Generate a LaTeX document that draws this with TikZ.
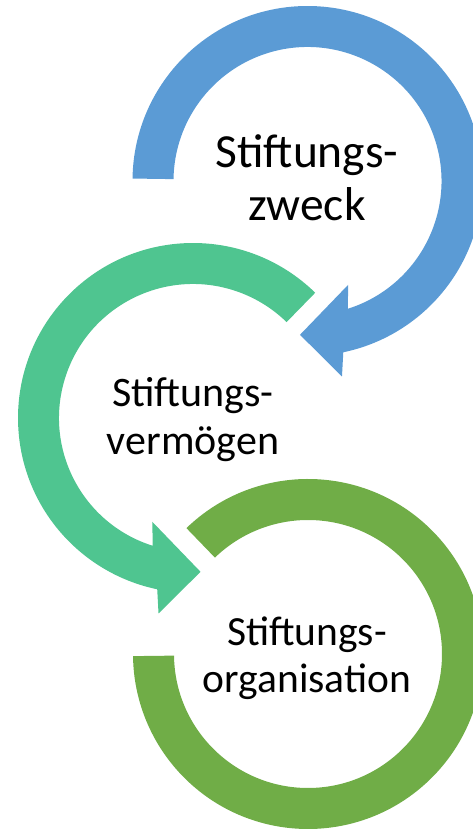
\documentclass[tikz,border=0pt]{standalone}
\usepackage{fontspec}
\setmainfont{Carlito}
\definecolor{cblue}{HTML}{5B9BD5}
\definecolor{cgreen}{HTML}{4FC590}
\definecolor{colive}{HTML}{70AD47}
\begin{document}
\begin{tikzpicture}[x=1pt,y=1pt,
  lbl/.style={align=center, inner sep=0pt, text=black, anchor=base},
  big/.style={font=\fontsize{47.5}{53}\selectfont},
  smallg/.style={font=\fontsize{42}{48.3}\selectfont},
  smallo/.style={font=\fontsize{41.5}{46.6}\selectfont}]
\useasboundingbox (0,0) rectangle (473,829);
\clip (0,0) rectangle (473,829);
\coordinate (cb) at (307.5,648);
\coordinate (cg) at (193,411);
\coordinate (co) at (308,175);
% blue circular arrow
\fill[cblue, shift={(cb)}] (179.2:175pt) arc[start angle=179.2, end angle=-78.2, radius=175pt]
  -- (-80:198.5pt) -- (-92.8:154pt) -- (-68.6:111.5pt) -- (-72.5:134pt)
  arc[start angle=-72.5, end angle=179.2, radius=134pt] -- cycle;
% green circular arrow
\fill[cgreen, shift={(cg)}] (45.7:175pt) arc[start angle=45.7, end angle=258.2, radius=175pt]
  -- (260:198.5pt) -- (272.8:154pt) -- (248.6:111.5pt) -- (252.5:134pt)
  arc[start angle=252.5, end angle=45.7, radius=134pt] -- cycle;
% olive circular arc
\fill[colive, shift={(co)}] (134:175pt) arc[start angle=134, end angle=-179.3, radius=175pt]
  -- (-179.3:134pt) arc[start angle=-179.3, end angle=134, radius=134pt] -- cycle;
\node[lbl, big] (tb) at (307,608.3) {Stiftungs-\\zweck};
\node[lbl, smallg] (tg) at (193,374) {Stiftungs-\\vermögen};
\node[lbl, smallo] (to) at (307,136.7) {Stiftungs-\\organisation};
\end{tikzpicture}
\end{document}
